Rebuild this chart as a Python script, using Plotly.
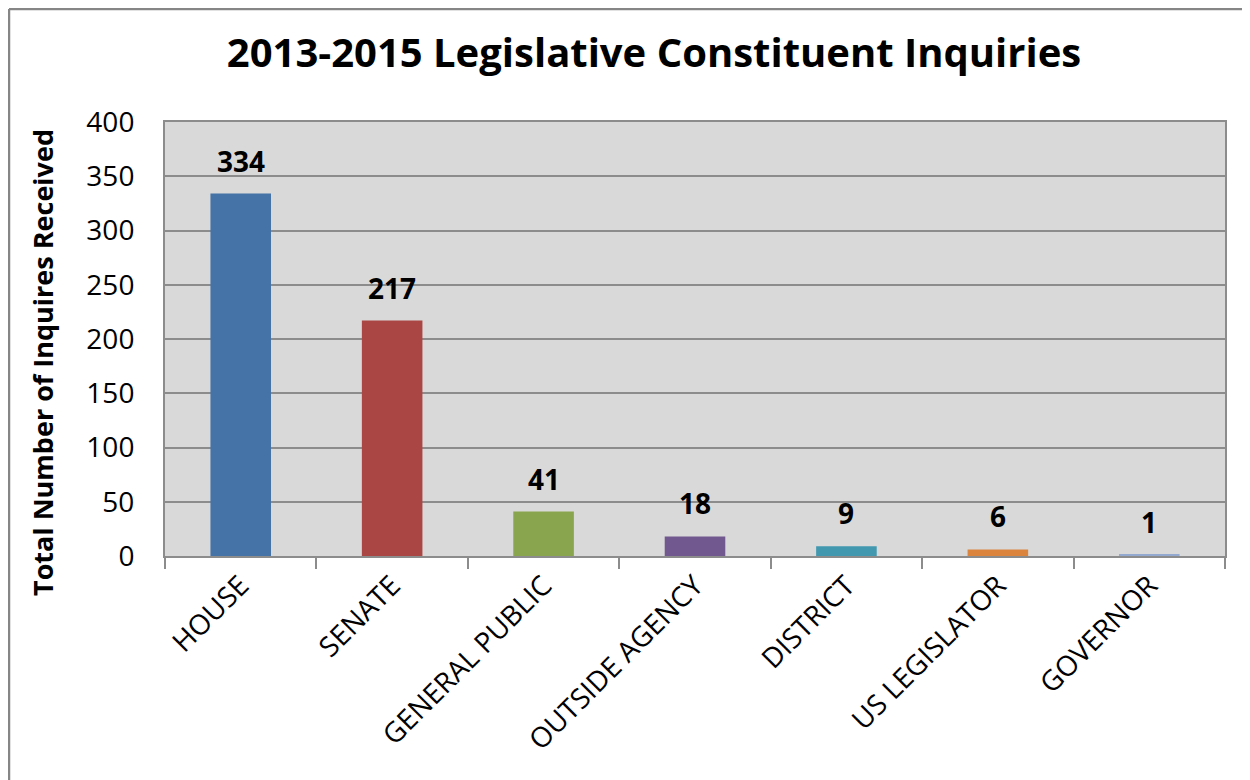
import plotly.graph_objects as go

categories = ["HOUSE", "SENATE", "GENERAL PUBLIC", "OUTSIDE AGENCY", "DISTRICT", "US LEGISLATOR", "GOVERNOR"]
values = [334, 217, 41, 18, 9, 6, 1]
colors = ["#4572A7", "#AA4643", "#89A54E", "#71588F", "#4198AF", "#DB843D", "#93A9CF"]
y_ticks = [0, 50, 100, 150, 200, 250, 300, 350, 400]

# page body has an 8px margin; figure coordinates are shifted accordingly
W, H = 1242, 772
ML, MR, MT, MB = 157, 25, 114, 224
FONT = "Open Sans"
GRID = "#8c8c8c"

fig = go.Figure()
fig.add_trace(go.Bar(
    x=categories, y=values, marker=dict(color=colors, line=dict(width=0)),
    hoverinfo="x+y", showlegend=False,
))

for c, v in zip(categories, values):
    fig.add_annotation(x=c, y=v, text=f"<b>{v}</b>", showarrow=False,
                       yanchor="bottom", yshift=12,
                       font=dict(family=FONT, size=28, color="black"))

pw = W - ML - MR
ph = H - MT - MB

# y-axis title as a rotated annotation
fig.add_annotation(xref="paper", yref="paper",
                   x=(42 - 8 - ML) / pw, y=1 - (363 - 8 - MT) / ph,
                   xanchor="center", yanchor="middle", textangle=-90, showarrow=False,
                   text="<b>Total Number of Inquires Received</b>",
                   font=dict(family=FONT, size=27, color="black"))

# outer frame (left and top edges)
x0 = (1 - ML) / pw
y_top = 1 + (MT - 1) / ph
y_bot = -(MB) / ph
x_right = 1 + MR / pw
fig.add_shape(type="line", xref="paper", yref="paper", x0=x0, x1=x0, y0=y_bot, y1=y_top,
              line=dict(color="#868686", width=2.5))
fig.add_shape(type="line", xref="paper", yref="paper", x0=x0, x1=x_right, y0=y_top, y1=y_top,
              line=dict(color="#868686", width=2.5))

fig.update_layout(
    width=W, height=H,
    margin=dict(l=ML, r=MR, t=MT, b=MB),
    paper_bgcolor="white", plot_bgcolor="#d9d9d9",
    bargap=0.6,
    title=dict(text="<b>2013-2015 Legislative Constituent Inquiries</b>",
               x=(654 - 8) / W, xanchor="center", y=1 - (53 - 8) / H, yanchor="middle",
               font=dict(family=FONT, size=40, color="black")),
    font=dict(family=FONT, color="black"),
)
fig.update_yaxes(
    range=[0, 400], tickvals=y_ticks, ticktext=[str(t) for t in y_ticks],
    showgrid=True, gridcolor=GRID, gridwidth=2,
    showline=True, linecolor=GRID, linewidth=2, mirror=True,
    ticks="outside", ticklen=23, tickcolor="rgba(0,0,0,0)",
    tickfont=dict(family=FONT, size=28, color="black"),
    zeroline=False,
)
fig.update_xaxes(
    tickangle=-45, tickson="boundaries", ticks="outside", ticklen=11,
    tickcolor=GRID, tickwidth=2,
    showline=True, linecolor=GRID, linewidth=2, mirror=True,
    tickfont=dict(family=FONT, size=28, color="black"),
    showgrid=False,
)

fig.write_html("out.html")
